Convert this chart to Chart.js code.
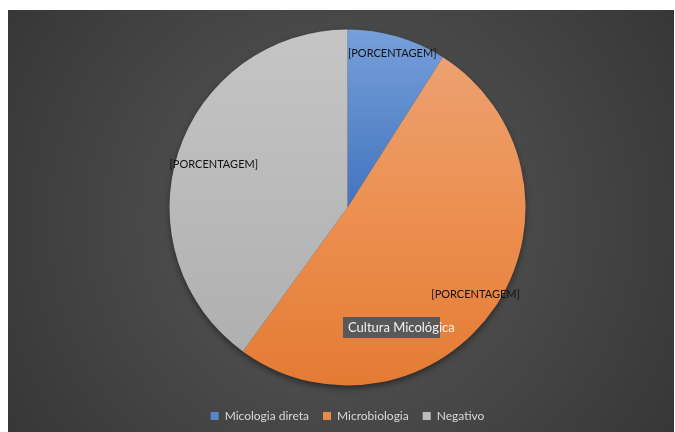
<!DOCTYPE html>
<html>
<head>
<meta charset="utf-8">
<script src="https://cdn.jsdelivr.net/npm/chart.js@4"></script>
<style>
  html, body { margin: 0; padding: 0; background: #ffffff; }
  #wrap { position: absolute; left: 8px; top: 10px; width: 666px; height: 422px; }
</style>
</head>
<body>
<div id="wrap"><canvas id="pieChart"></canvas></div>
<script>
const categories = ['Micologia direta', 'Microbiologia', 'Negativo'];
const values = [9, 51, 40];
const sliceLabels = ['[PORCENTAGEM]', '[PORCENTAGEM]', '[PORCENTAGEM]'];
const chartTitle = 'Cultura Micológica';

const solidColors = ['#5585cb', '#ec8b48', '#bcbcbc'];
// vertical shading stops, from the top of the pie to its bottom
const shadeStops = [
  [[0, '#76a0da'], [0.5, '#4273bd'], [1, '#3467b4']],
  [[0, '#eca476'], [0.5, '#ec9052'], [1, '#e47b33']],
  [[0, '#c5c5c5'], [0.5, '#b9b9b9'], [1, '#adadad']]
];
const pieRadius = 178;

function sliceFill(context) {
  const i = context.dataIndex;
  const area = context.chart.chartArea;
  if (!area) return solidColors[i];
  const cy = (area.top + area.bottom) / 2;
  const g = context.chart.ctx.createLinearGradient(0, cy - pieRadius, 0, cy + pieRadius);
  shadeStops[i].forEach(([t, c]) => g.addColorStop(t, c));
  return g;
}

const backdrop = {
  id: 'backdrop',
  beforeDraw(chart) {
    const { ctx, width, height } = chart;
    const g = ctx.createRadialGradient(width / 2, height / 2, 0, width / 2, height / 2, width * 0.62);
    g.addColorStop(0, '#5a5a5a');
    g.addColorStop(1, '#353535');
    ctx.save();
    ctx.fillStyle = g;
    ctx.fillRect(0, 0, width, height);
    ctx.restore();
  }
};

// soft shadow under the pie
const pieShadow = {
  id: 'pieShadow',
  beforeDatasetsDraw(chart) {
    const arc = chart.getDatasetMeta(0).data[0];
    if (!arc) return;
    const { ctx } = chart;
    ctx.save();
    ctx.shadowColor = 'rgba(0,0,0,0.55)';
    ctx.shadowBlur = 7;
    ctx.shadowOffsetY = 3;
    ctx.fillStyle = '#3a3a3a';
    ctx.beginPath();
    ctx.arc(arc.x, arc.y, arc.outerRadius - 1, 0, Math.PI * 2);
    ctx.fill();
    ctx.restore();
  }
};

const labelRadius = [0.9, 0.87, 0.79];
const sliceText = {
  id: 'sliceText',
  afterDatasetsDraw(chart) {
    const { ctx } = chart;
    ctx.save();
    ctx.font = '11px Lato';
    ctx.fillStyle = '#111111';
    ctx.textAlign = 'center';
    ctx.textBaseline = 'middle';
    chart.getDatasetMeta(0).data.forEach((arc, i) => {
      const mid = (arc.startAngle + arc.endAngle) / 2;
      const r = arc.outerRadius * labelRadius[i];
      ctx.fillText(sliceLabels[i], arc.x + Math.cos(mid) * r, arc.y + Math.sin(mid) * r);
    });
    ctx.restore();
  }
};

const titleBox = {
  id: 'titleBox',
  afterDraw(chart) {
    const { ctx } = chart;
    ctx.save();
    ctx.fillStyle = '#595959';
    ctx.fillRect(335, 307, 97, 21);
    ctx.font = '13px Lato';
    ctx.fillStyle = '#f2f2f2';
    ctx.textBaseline = 'middle';
    ctx.fillText(chartTitle, 340, 318);
    ctx.restore();
  }
};

new Chart(document.getElementById('pieChart'), {
  type: 'pie',
  data: {
    labels: categories,
    datasets: [{
      data: values,
      backgroundColor: sliceFill,
      borderWidth: 0
    }]
  },
  options: {
    responsive: true,
    maintainAspectRatio: false,
    animation: false,
    radius: pieRadius,
    layout: { padding: { top: 9, left: 13, right: 0, bottom: 0 } },
    plugins: {
      tooltip: { enabled: false },
      legend: {
        position: 'bottom',
        labels: {
          font: { family: 'Lato', size: 12 },
          color: '#d9d9d9',
          boxWidth: 8,
          boxHeight: 8,
          padding: 14,
          generateLabels(chart) {
            return categories.map((text, i) => ({
              text,
              fillStyle: solidColors[i],
              strokeStyle: solidColors[i],
              lineWidth: 0,
              fontColor: '#d9d9d9',
              index: i
            }));
          }
        }
      }
    }
  },
  plugins: [backdrop, pieShadow, sliceText, titleBox]
});
</script>
</body>
</html>
